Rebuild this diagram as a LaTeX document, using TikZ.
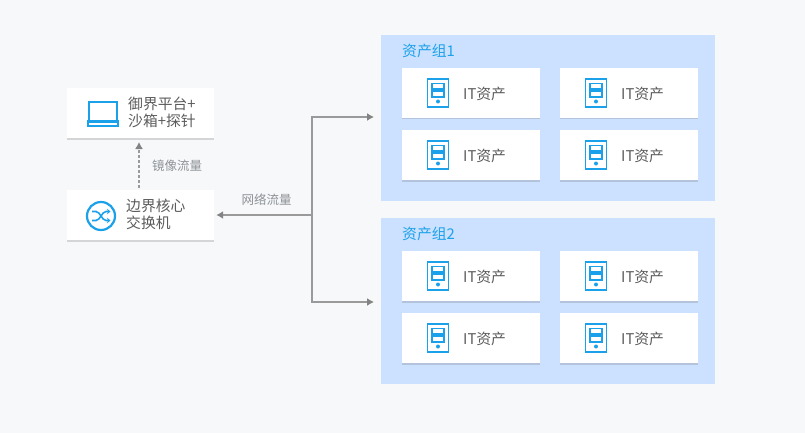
\documentclass[tikz,border=0pt]{standalone}
\usepackage{fontspec}
\setmainfont{Noto Sans CJK SC}
\usetikzlibrary{arrows.meta, positioning, calc, shadows}
\definecolor{pagebg}{HTML}{F6F8FA}
\definecolor{groupbg}{HTML}{CCE1FF}
\definecolor{iconblue}{HTML}{1BA1EA}
\definecolor{textgrey}{HTML}{5C5C5C}
\definecolor{labelgrey}{HTML}{8F9295}
\definecolor{linegrey}{HTML}{9A9A9A}

\begin{document}
\begin{tikzpicture}[
    x=1pt, y=-1pt,
    every node/.style={font=\fontsize{14.8}{17}\selectfont, text=textgrey},
    card/.style={rectangle, fill=white, inner sep=0pt,
                 drop shadow={shadow xshift=0pt, shadow yshift=-1.5pt, opacity=0.2, fill=black!70}},
    itcard/.style={card, minimum width=138pt, minimum height=50pt},
    maincard/.style={card, minimum width=147pt, minimum height=50pt},
    groupbox/.style={rectangle, fill=groupbg, inner sep=0pt,
                     minimum width=334pt, minimum height=166pt},
    grouptag/.style={font=\fontsize{14.8}{17}\selectfont, text=iconblue, anchor=west, inner sep=0pt},
    lab/.style={font=\fontsize{12.5}{15}\selectfont, text=labelgrey, inner sep=0pt},
    txt/.style={anchor=west, inner sep=0pt, align=left},
    flow/.style={linegrey, line width=1.3pt, -{Latex[length=7pt, width=8pt, color=linegrey!85!black]}},
    mirror/.style={flow, densely dashed},
    srv/.pic={
        \draw[iconblue, line width=1.9pt] (-10.5,-14) rectangle (10.5,14);
        \draw[iconblue, line width=1.5pt] (-6,-9.5) rectangle (6,-3.8);
        \draw[iconblue, line width=1.5pt] (-6,-1.8) rectangle (6,3.8);
        \fill[iconblue] (0,8.5) circle (2);
    },
    laptop/.pic={
        \draw[iconblue, line width=2pt] (-14,9) -- (-14,-9.5) -- (14,-9.5) -- (14,9);
        \fill[iconblue] (-16,9) rectangle (16,15.5);
        \fill[white] (-14,11.2) rectangle (14,13.2);
    },
    shuffle/.pic={
        \draw[iconblue, line width=2.2pt] (0,0) circle (14);
        \draw[iconblue, line width=1.6pt, -{Stealth[length=3.5pt, width=5.5pt]}]
            (-9,-4.5) -- (-5,-4.5) .. controls (-1,-4.5) and (1,4.5) .. (5,4.5) -- (9.5,4.5);
        \draw[iconblue, line width=1.6pt, -{Stealth[length=3.5pt, width=5.5pt]}]
            (-9,4.5) -- (-5,4.5) .. controls (-1,4.5) and (1,-4.5) .. (5,-4.5) -- (9.5,-4.5);
    },
]

\useasboundingbox (0,0) rectangle (805,433);
\fill[pagebg] (0,0) rectangle (805,433);

% ================================================ asset groups
\node[groupbox] (grp1) at (548, 118) {};
\node[groupbox] (grp2) at (548, 301) {};
\node[grouptag] (tag1) at (402, 51) {资产组1};
\node[grouptag] (tag2) at (402, 234) {资产组2};

\foreach \n/\x/\y in {a/471/93, b/629/93, c/471/155, d/629/155,
                      e/471/276, f/629/276, g/471/338, h/629/338}{
    \node[itcard] (it\n) at (\x, \y) {};
    \pic at ({\x-33}, \y) {srv};
    \node[txt] (itlab\n) at ({\x-8}, {\y+0.6}) {IT资产};
}

% ================================================ left column
\node[maincard] (probe) at (140.5, 113) {};
\pic at (103, 111.5) {laptop};
\node[txt] (probelab) at (128, 112) {御界平台+\\沙箱+探针};

\node[maincard] (core) at (140.5, 215) {};
\pic at (101, 216) {shuffle};
\node[txt] (corelab) at (126, 214.5) {边界核心\\交换机};

% ================================================ traffic
\coordinate (mirrorfoot) at (139, 190);
\coordinate (mirrorhead) at (139, 138);
\draw[mirror, shorten <=2pt, shorten >=4pt] (mirrorfoot) -- (mirrorhead);
\node[lab, anchor=west] (mirrorlab) at (152, 166) {镜像流量};

\coordinate (trunk) at (312, 215);
\coordinate (inlet1) at (381, 117);
\coordinate (inlet2) at (381, 302);
\draw[flow, shorten >=2pt] (trunk) -- (core);
\draw[flow, shorten >=7pt] (trunk) |- (inlet1);
\draw[flow, shorten >=7pt] (trunk) |- (inlet2);
\node[lab] (netlab) at (266.5, 200) {网络流量};

\end{tikzpicture}
\end{document}
